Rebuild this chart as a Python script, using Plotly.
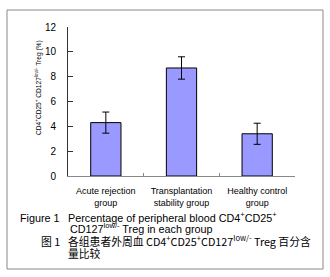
import plotly.graph_objects as go

categories = ["Acute rejection<br>group", "Transplantation<br>stability group", "Healthy control<br>group"]
values = [4.3, 8.7, 3.4]
errors = [0.85, 0.9, 0.85]
y_ticks = [0, 2, 4, 6, 8, 10, 12]

L, R, T, B = 68, 35, 27, 101
W, H = 330, 277
pw, ph = W - L - R, H - T - B

def px(x):
    return (x - L) / pw

def py(y):
    return (H - B - y) / ph

fig = go.Figure()
fig.add_trace(go.Bar(
    x=categories, y=values, width=0.4,
    marker=dict(color="#9999FF", line=dict(color="black", width=1)),
    error_y=dict(type="data", array=errors, color="black", thickness=1, width=3.5),
))

fig.update_layout(
    width=W, height=H,
    margin=dict(l=L, r=R, t=T, b=B),
    paper_bgcolor="white", plot_bgcolor="white",
    showlegend=False,
    font=dict(family="Arial, Liberation Sans, sans-serif", color="black"),
    xaxis=dict(
        type="category", tickson="boundaries", ticks="inside", ticklen=3,
        tickcolor="#888", showline=True, linecolor="#888", linewidth=1,
        showgrid=False, tickfont=dict(size=9), range=[-0.5, 2.5],
        ticklabelstandoff=6,
    ),
    yaxis=dict(
        range=[0, 12], tickvals=y_ticks, ticks="inside", ticklen=5,
        tickcolor="#333", showline=True, linecolor="#333", linewidth=1,
        showgrid=False, zeroline=False, tickfont=dict(size=10),
        ticklabelstandoff=9,
    ),
)

fig.add_annotation(
    x=px(38), y=py(88), xref="paper", yref="paper", showarrow=False,
    xanchor="center", yanchor="middle",
    textangle=-90, font=dict(size=6.6, family="Arial, Liberation Sans, sans-serif"),
    text="CD4<sup>+</sup>CD25<sup>+</sup> CD127<sup>low/-</sup> Treg (%)",
)

cap_font = dict(size=10.8, family="Arial, Liberation Sans, sans-serif")
cjk_font = dict(size=10.8, family="Noto Sans CJK SC, Arial, sans-serif")

def caption(x, y, text, font):
    fig.add_annotation(x=px(x), y=py(y), xref="paper", yref="paper", showarrow=False,
                       xanchor="left", yanchor="middle", font=font, text=text)

caption(18, 218, "Figure 1", cap_font)
caption(66, 217, "Percentage of peripheral blood CD4<sup>+</sup>CD25<sup>+</sup>", cap_font)
caption(68, 228, "CD127<sup>low/-</sup> Treg in each group", cap_font)
caption(39, 241, "图 1", cjk_font)
caption(66, 240, "各组患者外周血 CD4<sup>+</sup>CD25<sup>+</sup>CD127<sup>low/-</sup> Treg 百分含", cjk_font)
caption(66, 253, "量比较", cjk_font)

fig.add_shape(type="rect", xref="paper", yref="paper",
              x0=px(7), x1=px(323), y0=py(269), y1=py(10),
              line=dict(color="#888", width=1))

fig.write_html("out.html", config={"displayModeBar": False},
               post_script="document.body.style.margin='0';document.body.style.overflow='hidden';")
